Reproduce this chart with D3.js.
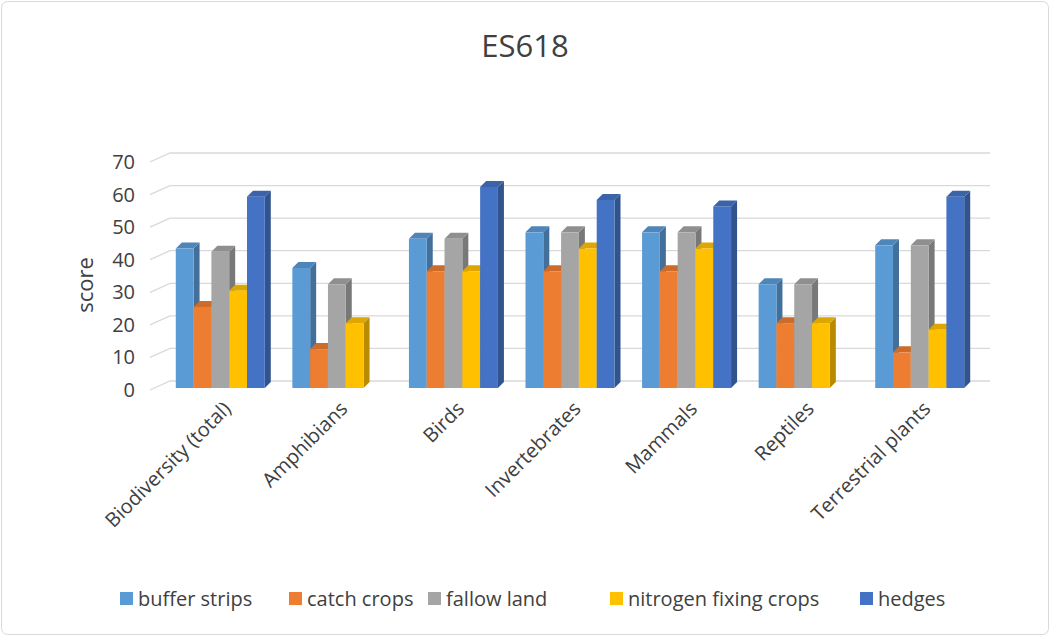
<!DOCTYPE html><html><head><meta charset="utf-8"><script src="https://cdn.jsdelivr.net/npm/d3@7"></script>
<style>body{margin:0;background:#fff}text{font-family:"Open Sans",sans-serif}</style></head><body>
<svg id="c" width="1051" height="637"></svg>
<script>
const categories=["Biodiversity (total)","Amphibians","Birds","Invertebrates","Mammals","Reptiles","Terrestrial plants"];
const seriesNames=["buffer strips","catch crops","fallow land","nitrogen fixing crops","hedges"];
const colors=["#5B9BD5","#ED7D31","#A5A5A5","#FFC000","#4472C4"];
const values=[
 [43,37,46,48,48,32,44],
 [25,12,36,36,36,20,11],
 [42,32,46,48,48,32,44],
 [30,20,36,43,43,20,18],
 [59,0,62,58,56,0,59]];
const yTicks=[0,10,20,30,40,50,60,70];
const svg=d3.select("#c");
svg.append("rect").attr("x",1.5).attr("y",1.5).attr("width",1047).attr("height",633).attr("rx",6).attr("fill","#fff").attr("stroke","#d9d9d9");
const y=d3.scaleLinear().domain([0,70]).range([390,162]);
const yb=d3.scaleLinear().domain([0,70]).range([388,161]);
const x=d3.scaleBand().domain(categories).range([162,978]);
const dx=6,dy=-6,gx=20,gy=-9;
yTicks.forEach(t=>{
 const yy=y(t);
 svg.append("path").attr("d",`M150,${yy}L${150+gx},${yy+gy}L990,${yy+gy}`).attr("fill","none").attr("stroke","#d9d9d9").attr("stroke-width",1.3);
 svg.append("text").attr("x",135).attr("y",yy+7).attr("text-anchor","end").attr("font-size",20).attr("fill","#404040").text(t);
});
const bw=17.8;
categories.forEach((c,ci)=>{
 const x0=x(c)+x.bandwidth()/2-2.5*bw;
 seriesNames.forEach((s,si)=>{
  const v=values[si][ci]; if(!v)return;
  const l=x0+si*bw, r=l+bw, top=yb(v), b=yb(0);
  const col=d3.color(colors[si]);
  svg.append("path").attr("d",`M${r},${top}L${r+dx},${top+dy}L${r+dx},${b+dy}L${r},${b}Z`).attr("fill",col.darker(0.9));
  svg.append("path").attr("d",`M${l},${top}L${l+dx},${top+dy}L${r+dx},${top+dy}L${r},${top}Z`).attr("fill",col.darker(0.4));
  svg.append("rect").attr("x",l).attr("y",top).attr("width",bw).attr("height",b-top).attr("fill",col);
 });
 const cx=x(c)+x.bandwidth()/2+12;
 svg.append("text").attr("transform",`translate(${cx},${410}) rotate(-45)`).attr("text-anchor","end").attr("font-size",20).attr("fill","#404040").text(c);
});
svg.append("text").attr("x",525).attr("y",57).attr("text-anchor","middle").attr("font-size",31).attr("fill","#404040").text("ES618");
svg.append("text").attr("transform","translate(93,285) rotate(-90)").attr("text-anchor","middle").attr("font-size",22).attr("fill","#404040").text("score");
const lx=[120,289,428,610,860];
seriesNames.forEach((s,i)=>{
 svg.append("rect").attr("x",lx[i]).attr("y",592).attr("width",13).attr("height",13).attr("fill",colors[i]);
 svg.append("text").attr("x",lx[i]+18).attr("y",606).attr("font-size",20).attr("fill","#404040").text(s);
});
</script></body></html>
